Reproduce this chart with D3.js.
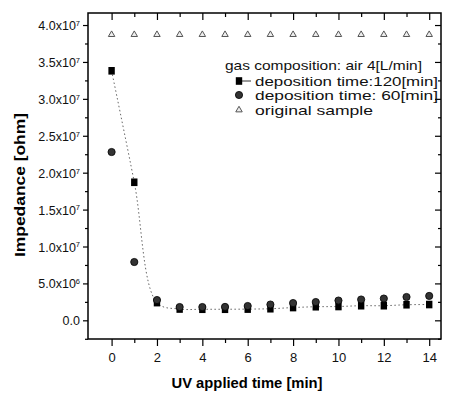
<!DOCTYPE html>
<html><head><meta charset="utf-8">
<script src="https://cdn.jsdelivr.net/npm/d3@7"></script>
<style>
html,body{margin:0;padding:0;background:#fff;}
svg{display:block;font-family:"Liberation Sans",Arial,sans-serif;}
</style></head>
<body>
<svg id="chart" width="449" height="396"></svg>
<script>
// ---- data ----
const times = [0,1,2,3,4,5,6,7,8,9,10,11,12,13,14];
const dep120 = [3.38e7,1.87e7,0.24e7,0.153e7,0.15e7,0.15e7,0.152e7,0.157e7,0.173e7,0.184e7,0.187e7,0.198e7,0.198e7,0.211e7,0.214e7];
const dep60  = [2.28e7,0.79e7,0.275e7,0.18e7,0.18e7,0.182e7,0.194e7,0.214e7,0.234e7,0.248e7,0.268e7,0.282e7,0.295e7,0.316e7,0.33e7];
const original = [3.87e7,3.87e7,3.87e7,3.87e7,3.87e7,3.87e7,3.87e7,3.87e7,3.87e7,3.87e7,3.87e7,3.87e7,3.87e7,3.87e7,3.87e7];
const yTicks = [0,0.5e7,1.0e7,1.5e7,2.0e7,2.5e7,3.0e7,3.5e7,4.0e7];
const yTickLabels = [["0.0",""],["5.0x10","6"],["1.0x10","7"],["1.5x10","7"],["2.0x10","7"],["2.5x10","7"],["3.0x10","7"],["3.5x10","7"],["4.0x10","7"]];
const xTicks = [0,2,4,6,8,10,12,14];
const legendTitle = "gas composition: air 4[L/min]";
const legendLabels = ["deposition time:120[min]","deposition time: 60[min]","original sample"];
const xTitle = "UV applied time [min]";
const yTitle = "Impedance [ohm]";

// ---- layout ----
const L=88, R=441, T=13, B=339;
const svg = d3.select("#chart");
const x = d3.scaleLinear().domain([-1.04,14.52]).range([L,R]);
const y = d3.scaleLinear().domain([-0.253e7,4.163e7]).range([B,T]);

// frame
svg.append("rect").attr("x",L).attr("y",T).attr("width",R-L).attr("height",B-T)
  .attr("fill","none").attr("stroke","#000").attr("stroke-width",1.5);

const minorX = d3.range(-1,15).filter(v=>v%2!==0);
const minorY = d3.range(-0.25e7,4.1e7,0.5e7);

// bottom axis
const gB = svg.append("g").attr("transform",`translate(0,${B})`)
  .call(d3.axisBottom(x).tickValues(xTicks).tickSize(7).tickPadding(7).tickFormat(d3.format("d")));
gB.select(".domain").remove();
gB.selectAll("text").attr("font-size",13).attr("font-family","Liberation Sans, Arial, sans-serif").attr("fill","#111");
svg.append("g").attr("transform",`translate(0,${B})`)
  .call(d3.axisBottom(x).tickValues(minorX.filter(v=>v>=0)).tickSize(4).tickFormat(""))
  .select(".domain").remove();

// top axis (inward)
const gT = svg.append("g").attr("transform",`translate(0,${T})`)
  .call(d3.axisBottom(x).tickValues(xTicks).tickSize(7).tickFormat(""));
gT.select(".domain").remove();
svg.append("g").attr("transform",`translate(0,${T})`)
  .call(d3.axisBottom(x).tickValues(minorX.filter(v=>v>=0)).tickSize(4).tickFormat(""))
  .select(".domain").remove();

// left axis
const gL = svg.append("g").attr("transform",`translate(${L},0)`)
  .call(d3.axisLeft(y).tickValues(yTicks).tickSize(5).tickPadding(4).tickFormat(""));
gL.select(".domain").remove();
gL.selectAll(".tick").each(function(d,i){
  const t = d3.select(this).append("text").attr("x",-8).attr("dy","0.36em")
    .attr("text-anchor","end").attr("font-size",12.5).attr("fill","#111");
  t.append("tspan").text(yTickLabels[i][0]);
  if (yTickLabels[i][1]) t.append("tspan").attr("dy","-0.55em").attr("font-size",7.5).text(yTickLabels[i][1]);
});
svg.append("g").attr("transform",`translate(${L},0)`)
  .call(d3.axisLeft(y).tickValues(minorY).tickSize(3).tickFormat(""))
  .select(".domain").remove();

// right axis (inward)
const gR = svg.append("g").attr("transform",`translate(${R},0)`)
  .call(d3.axisRight(y).tickValues(yTicks).tickSize(-6).tickFormat(""));
gR.select(".domain").remove();
svg.append("g").attr("transform",`translate(${R},0)`)
  .call(d3.axisRight(y).tickValues(minorY).tickSize(-3).tickFormat(""))
  .select(".domain").remove();

svg.selectAll(".tick line").attr("stroke","#000").attr("stroke-width",1.2);

// axis titles
svg.append("text").attr("x",247).attr("y",388).attr("text-anchor","middle")
  .attr("font-weight","bold").attr("font-size",15).attr("textLength",151).attr("lengthAdjust","spacingAndGlyphs")
  .text(xTitle);
svg.append("text").attr("transform","translate(25,185) rotate(-90)").attr("text-anchor","middle")
  .attr("font-weight","bold").attr("font-size",15).attr("textLength",144).attr("lengthAdjust","spacingAndGlyphs")
  .text(yTitle);

// lines
const line = d3.line().x((d,i)=>x(times[i])).y(d=>y(d)).curve(d3.curveCatmullRom);
svg.append("path").datum(dep120).attr("d",line).attr("fill","none")
  .attr("stroke","#666").attr("stroke-width",1).attr("stroke-dasharray","1.5,2.5");

// markers
svg.append("g").selectAll("path").data(original).join("path")
  .attr("transform",(d,i)=>`translate(${x(times[i])},${y(d)})`)
  .attr("d",d3.symbol(d3.symbolTriangle,18)())
  .attr("fill","#eee").attr("stroke","#555").attr("stroke-width",1);
svg.append("g").selectAll("rect").data(dep120).join("rect")
  .attr("x",(d,i)=>x(times[i])-3.2).attr("y",d=>y(d)-3.8).attr("width",6.4).attr("height",7.6)
  .attr("fill","#000");
svg.append("g").selectAll("circle").data(dep60).join("circle")
  .attr("cx",(d,i)=>x(times[i])).attr("cy",d=>y(d)).attr("r",3.6)
  .attr("fill","#333").attr("stroke","#000").attr("stroke-width",0.8);

// legend
const lg = svg.append("g").attr("font-size",13).attr("fill","#111");
lg.append("text").attr("x",225).attr("y",70).attr("textLength",197).attr("lengthAdjust","spacingAndGlyphs").text(legendTitle);
const ly = [81,95,110];
const lens = [183,183,118];
legendLabels.forEach((s,i)=>{
  lg.append("text").attr("x",255).attr("y",ly[i]+5).attr("textLength",lens[i]).attr("lengthAdjust","spacingAndGlyphs").text(s);
});
lg.append("line").attr("x1",239).attr("x2",251).attr("y1",ly[0]).attr("y2",ly[0]).attr("stroke","#333").attr("stroke-width",1);
lg.append("rect").attr("x",235.8).attr("y",ly[0]-3.8).attr("width",6.4).attr("height",7.6).attr("fill","#000");
lg.append("circle").attr("cx",239).attr("cy",ly[1]).attr("r",3.6).attr("fill","#333").attr("stroke","#000").attr("stroke-width",0.8);
lg.append("path").attr("transform",`translate(239,${ly[2]})`).attr("d",d3.symbol(d3.symbolTriangle,18)())
  .attr("fill","#eee").attr("stroke","#555").attr("stroke-width",1);
</script>
</body></html>
